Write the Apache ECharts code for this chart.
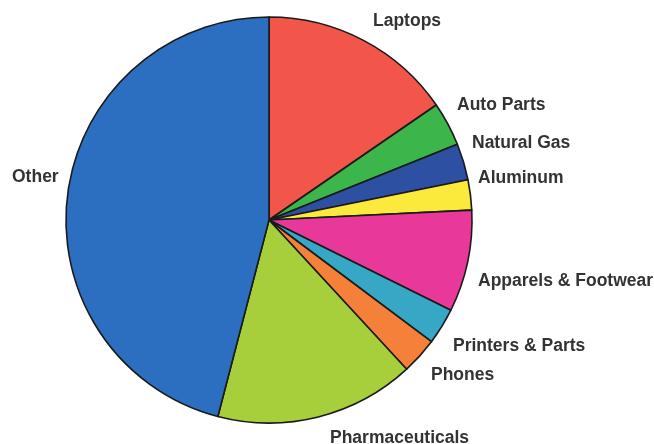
<!DOCTYPE html>
<html>
<head>
<meta charset="utf-8">
<script src="https://cdn.jsdelivr.net/npm/echarts@6/dist/echarts.min.js"></script>
<style>
html,body{margin:0;padding:0;background:#fff;}
#chart{width:654px;height:444px;}
</style>
</head>
<body>
<div id="chart"></div>
<script>
var categories = ["Laptops", "Auto Parts", "Natural Gas", "Aluminum", "Apparels & Footwear", "Printers & Parts", "Phones", "Pharmaceuticals", "Other"];
var shares = [15.4, 3.5, 2.9, 2.4, 8.1, 2.9, 2.9, 15.9, 45.9];
var colors = ["#F2554A", "#3CB54A", "#2D50A3", "#FBEA3C", "#E8399B", "#36A8C6", "#F5803A", "#A6CF3B", "#2C6FC0"];

// label anchor positions (left x, middle y)
var labelPos = [[373, 21], [457, 105], [472, 143], [478, 178], [478, 281], [453, 346], [431, 375], [330, 438], [12, 177]];

var chart = echarts.init(document.getElementById('chart'), null, {renderer: 'canvas'});
chart.setOption({
  backgroundColor: '#ffffff',
  animation: false,
  series: [{
    type: 'pie',
    center: [269, 220],
    radius: 203,
    startAngle: 90,
    clockwise: true,
    avoidLabelOverlap: false,
    minAngle: 0,
    itemStyle: {borderColor: '#1a1a1a', borderWidth: 1.6},
    label: {
      show: true,
      position: 'outside',
      formatter: '{b}',
      fontFamily: 'Liberation Sans, Arial, sans-serif',
      fontWeight: 'bold',
      fontSize: 17.5,
      color: '#333333'
    },
    labelLine: {show: false},
    labelLayout: function (p) {
      var pos = labelPos[p.dataIndex];
      return {x: pos[0], y: pos[1], align: 'left', verticalAlign: 'middle', hideOverlap: false};
    },
    emphasis: {disabled: true},
    data: categories.map(function (c, i) {
      return {name: c, value: shares[i], itemStyle: {color: colors[i]}};
    })
  }]
});
</script>
</body>
</html>
